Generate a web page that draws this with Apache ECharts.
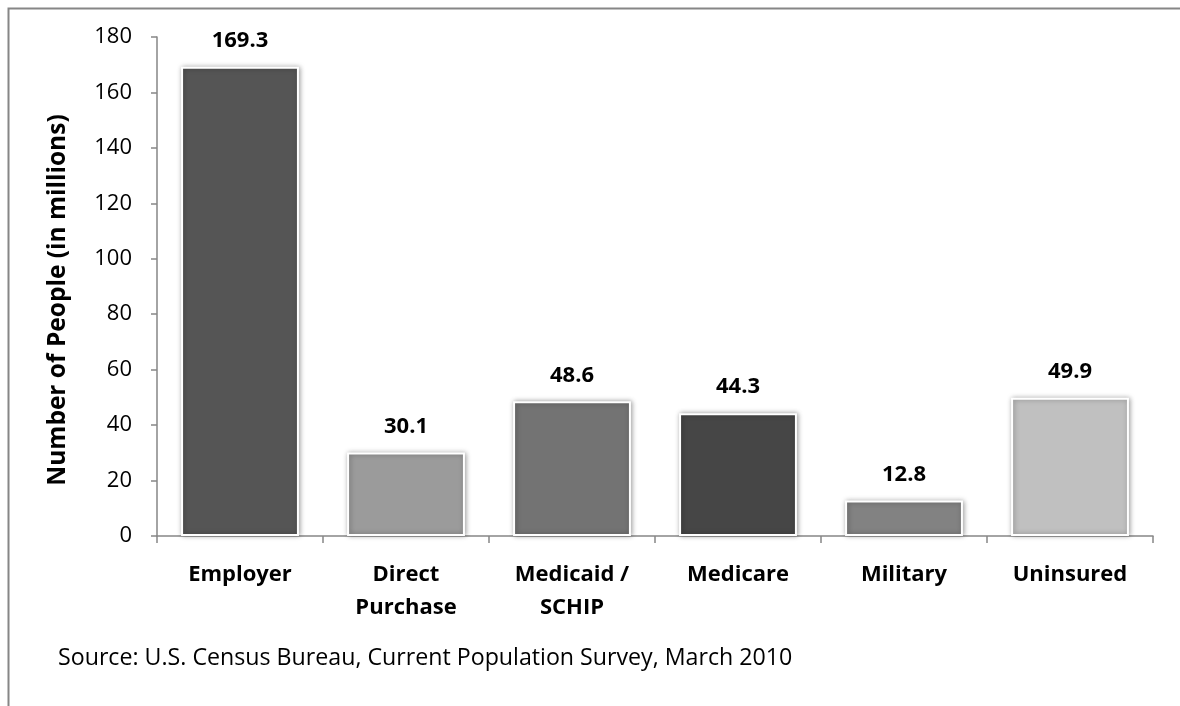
<!DOCTYPE html>
<html>
<head>
<meta charset="utf-8">
<script src="https://cdn.jsdelivr.net/npm/echarts@6/dist/echarts.min.js"></script>
<style>
  html, body { margin: 0; padding: 0; background: #ffffff; }
  #chart { width: 1180px; height: 706px; }
</style>
</head>
<body>
<div id="chart"></div>
<script>
// Health insurance coverage by type, millions of people
const categories = ['Employer', 'Direct\nPurchase', 'Medicaid /\nSCHIP', 'Medicare', 'Military', 'Uninsured'];
const people = [169.3, 30.1, 48.6, 44.3, 12.8, 49.9];
const barColors = ['#555555', '#9b9b9b', '#737373', '#464646', '#828282', '#c0c0c0'];
const yTicks = [0, 20, 40, 60, 80, 100, 120, 140, 160, 180];
const yTitle = 'Number of People (in millions)';
const sourceNote = 'Source: U.S. Census Bureau, Current Population Survey, March 2010';

const FONT = 'Open Sans';
const chart = echarts.init(document.getElementById('chart'), null, { renderer: 'canvas' });

chart.setOption({
  backgroundColor: '#ffffff',
  animation: false,
  textStyle: { fontFamily: FONT },
  grid: { left: 157, top: 37, right: 27, bottom: 170, containLabel: false },
  graphic: [
    {
      type: 'rect',
      shape: { x: 8.5, y: 8.5, width: 1200, height: 720 },
      style: { fill: 'none', stroke: '#868686', lineWidth: 2 },
      silent: true
    },
    {
      // vertical axis title
      type: 'text',
      x: 58,
      y: 300,
      rotation: Math.PI / 2,
      style: {
        text: yTitle, fontFamily: FONT, fontWeight: 'bold', fontSize: 24.5,
        fill: '#000000', align: 'center', verticalAlign: 'middle'
      }
    },
    {
      type: 'text',
      left: 58,
      top: 647,
      style: { text: sourceNote, fontFamily: FONT, fontSize: 23.2, fill: '#000000' }
    }
  ],
  xAxis: {
    type: 'category',
    data: categories,
    axisLine: { lineStyle: { color: '#868686', width: 1.5 } },
    axisTick: { show: true, length: 7, lineStyle: { color: '#868686', width: 1.5 } },
    axisLabel: {
      color: '#000000', fontFamily: FONT, fontWeight: 'bold', fontSize: 22,
      lineHeight: 33, margin: 22, interval: 0
    }
  },
  yAxis: {
    type: 'value',
    min: 0, max: 180, interval: 20,
    axisLine: { show: true, lineStyle: { color: '#868686', width: 1.5 } },
    axisTick: { show: true, length: 6, lineStyle: { color: '#868686', width: 1.5 } },
    splitLine: { show: false },
    axisLabel: {
      color: '#000000', fontFamily: FONT, fontSize: 22, margin: 25,
      formatter: v => (yTicks.includes(v) ? String(v) : '')
    }
  },
  series: [{
    type: 'bar',
    barWidth: '71%',
    data: people.map((v, i) => ({
      value: v,
      itemStyle: { color: barColors[i] }
    })),
    itemStyle: {
      borderColor: '#ffffff', borderWidth: 2,
      shadowBlur: 5, shadowColor: 'rgba(0,0,0,0.35)', shadowOffsetX: 1, shadowOffsetY: 0
    },
    label: {
      show: true, position: 'top', distance: 15,
      color: '#000000', fontFamily: FONT, fontWeight: 'bold', fontSize: 22,
      formatter: p => p.value.toFixed(1)
    }
  }]
});
</script>
</body>
</html>
